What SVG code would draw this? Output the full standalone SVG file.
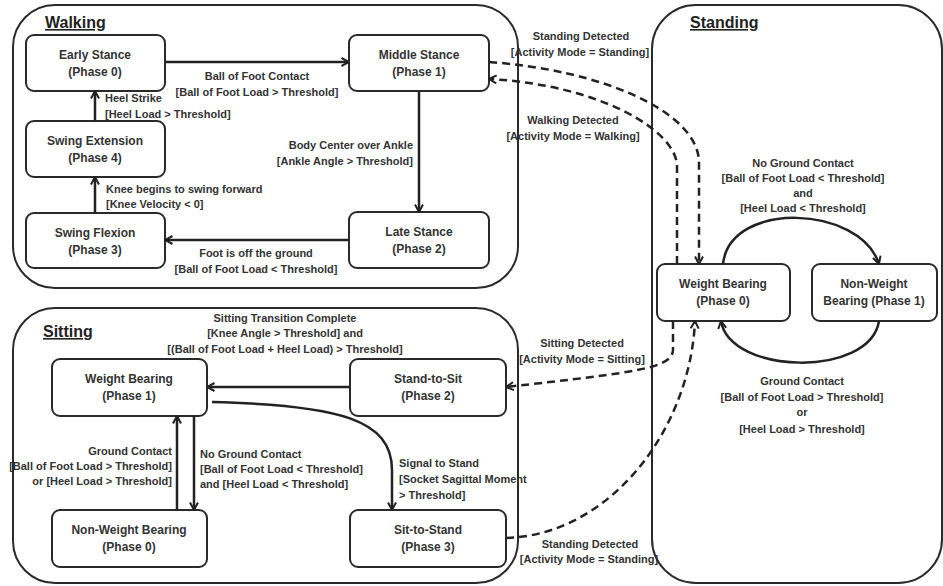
<svg xmlns="http://www.w3.org/2000/svg" width="943" height="586" viewBox="0 0 943 586">
  <style>
    .region { fill: none; stroke: #2a2a2a; stroke-width: 2; }
    .state rect { fill: #fff; stroke: #2a2a2a; stroke-width: 2; }
    .state text { font-family: "Liberation Sans", Arial, sans-serif; font-weight: bold; font-size: 12px; fill: #333; text-anchor: middle; }
    .title { font-family: "Liberation Sans", Arial, sans-serif; font-weight: bold; font-size: 16px; fill: #222; text-decoration: underline; }
    .lbl { font-family: "Liberation Sans", Arial, sans-serif; font-weight: bold; font-size: 11px; fill: #333; }
    .c { text-anchor: middle; }
    .r { text-anchor: end; }
    .edge { fill: none; stroke: #222; stroke-width: 2.5; marker-end: url(#arrow); }
    .dash { stroke-dasharray: 8 5; }
  </style>
  <defs>
    <marker id="arrow" viewBox="0 0 10 10" refX="9" refY="5" markerWidth="10" markerHeight="10" markerUnits="userSpaceOnUse" orient="auto">
      <path d="M1.5,1 L9,5 L1.5,9" fill="none" stroke="#222" stroke-width="2"/>
    </marker>
  </defs>

  <!-- activity mode regions -->
  <g id="walking-mode">
    <rect class="region" x="13" y="5" width="505" height="283" rx="42"/>
    <text class="title" x="45" y="28">Walking</text>
  </g>
  <g id="sitting-mode">
    <rect class="region" x="13" y="308" width="505" height="275" rx="42"/>
    <text class="title" x="43" y="337">Sitting</text>
  </g>
  <g id="standing-mode">
    <rect class="region" x="652" y="5" width="290" height="578" rx="44"/>
    <text class="title" x="690" y="28">Standing</text>
  </g>

  <!-- walking states -->
  <g id="early-stance" class="state">
    <rect x="26" y="35" width="139" height="56" rx="8"/>
    <text x="95" y="59">Early Stance</text>
    <text x="95" y="76">(Phase 0)</text>
  </g>
  <g id="middle-stance" class="state">
    <rect x="349" y="35" width="140" height="56" rx="8"/>
    <text x="419" y="59">Middle Stance</text>
    <text x="419" y="76">(Phase 1)</text>
  </g>
  <g id="swing-extension" class="state">
    <rect x="26" y="121" width="139" height="56" rx="8"/>
    <text x="95" y="145">Swing Extension</text>
    <text x="95" y="162">(Phase 4)</text>
  </g>
  <g id="swing-flexion" class="state">
    <rect x="26" y="213" width="139" height="55" rx="8"/>
    <text x="95" y="237">Swing Flexion</text>
    <text x="95" y="254">(Phase 3)</text>
  </g>
  <g id="late-stance" class="state">
    <rect x="349" y="212" width="140" height="56" rx="8"/>
    <text x="419" y="236">Late Stance</text>
    <text x="419" y="253">(Phase 2)</text>
  </g>

  <!-- standing states -->
  <g id="standing-weight-bearing" class="state">
    <rect x="657" y="264" width="133" height="57" rx="8"/>
    <text x="723" y="288">Weight Bearing</text>
    <text x="723" y="305">(Phase 0)</text>
  </g>
  <g id="standing-non-weight-bearing" class="state">
    <rect x="812" y="264" width="125" height="57" rx="8"/>
    <text x="874" y="288">Non-Weight</text>
    <text x="874" y="305">Bearing (Phase 1)</text>
  </g>

  <!-- sitting states -->
  <g id="sitting-weight-bearing" class="state">
    <rect x="52" y="359" width="155" height="57" rx="8"/>
    <text x="129" y="383">Weight Bearing</text>
    <text x="129" y="400">(Phase 1)</text>
  </g>
  <g id="stand-to-sit" class="state">
    <rect x="350" y="359" width="156" height="57" rx="8"/>
    <text x="428" y="383">Stand-to-Sit</text>
    <text x="428" y="400">(Phase 2)</text>
  </g>
  <g id="sitting-non-weight-bearing" class="state">
    <rect x="52" y="510" width="155" height="57" rx="8"/>
    <text x="129" y="534">Non-Weight Bearing</text>
    <text x="129" y="551">(Phase 0)</text>
  </g>
  <g id="sit-to-stand" class="state">
    <rect x="350" y="510" width="156" height="57" rx="8"/>
    <text x="428" y="534">Sit-to-Stand</text>
    <text x="428" y="551">(Phase 3)</text>
  </g>

  <!-- transitions -->
  <g id="transitions">
    <path class="edge" d="M165,62 H349"/>
    <path class="edge" d="M95,121 V91"/>
    <path class="edge" d="M95,213 V177"/>
    <path class="edge" d="M419,91 V212"/>
    <path class="edge" d="M349,240 H165"/>

    <path class="edge" d="M723,264 C730,200 860,205 879,264"/>
    <path class="edge" d="M879,321 C870,378 730,375 721,321"/>

    <path class="edge dash" d="M489,62 C600,70 695,110 699,160 L699,264"/>
    <path class="edge dash" d="M677,264 V165 C675,130 600,85 489,79"/>
    <path class="edge dash" d="M673,321 L673,350 C672,368 640,372 506,387"/>
    <path class="edge dash" d="M506,538 C610,535 690,430 695,321"/>

    <path class="edge" d="M350,387 H207"/>
    <path class="edge" d="M177,510 V416"/>
    <path class="edge" d="M194,416 V510"/>
    <path class="edge" d="M212,402 C340,405 392,420 392,470 L392,510"/>
  </g>

  <!-- transition labels -->
  <g id="labels">
    <text class="lbl c" x="257" y="80">Ball of Foot Contact</text>
    <text class="lbl c" x="257" y="96">[Ball of Foot Load &gt; Threshold]</text>
    <text class="lbl" x="105" y="102">Heel Strike</text>
    <text class="lbl" x="105" y="118">[Heel Load &gt; Threshold]</text>
    <text class="lbl" x="106" y="193">Knee begins to swing forward</text>
    <text class="lbl" x="106" y="208">[Knee Velocity &lt; 0]</text>
    <text class="lbl r" x="413" y="149">Body Center over Ankle</text>
    <text class="lbl r" x="413" y="165">[Ankle Angle &gt; Threshold]</text>
    <text class="lbl c" x="256" y="257">Foot is off the ground</text>
    <text class="lbl c" x="256" y="273">[Ball of Foot Load &lt; Threshold]</text>

    <text class="lbl c" x="581" y="40">Standing Detected</text>
    <text class="lbl c" x="580" y="56">[Activity Mode = Standing]</text>
    <text class="lbl c" x="573" y="124">Walking Detected</text>
    <text class="lbl c" x="573" y="140">[Activity Mode = Walking]</text>

    <text class="lbl c" x="803" y="167">No Ground Contact</text>
    <text class="lbl c" x="803" y="182">[Ball of Foot Load &lt; Threshold]</text>
    <text class="lbl c" x="803" y="197">and</text>
    <text class="lbl c" x="803" y="212">[Heel Load &lt; Threshold]</text>
    <text class="lbl c" x="802" y="385">Ground Contact</text>
    <text class="lbl c" x="802" y="401">[Ball of Foot Load &gt; Threshold]</text>
    <text class="lbl c" x="802" y="416">or</text>
    <text class="lbl c" x="802" y="433">[Heel Load &gt; Threshold]</text>

    <text class="lbl c" x="285" y="322">Sitting Transition Complete</text>
    <text class="lbl c" x="285" y="337">[Knee Angle &gt; Threshold] and</text>
    <text class="lbl c" x="285" y="353">[(Ball of Foot Load + Heel Load) &gt; Threshold]</text>

    <text class="lbl c" x="582" y="347">Sitting Detected</text>
    <text class="lbl c" x="582" y="363">[Activity Mode = Sitting]</text>

    <text class="lbl r" x="172" y="455">Ground Contact</text>
    <text class="lbl r" x="172" y="470">[Ball of Foot Load &gt; Threshold]</text>
    <text class="lbl r" x="172" y="485">or [Heel Load &gt; Threshold]</text>
    <text class="lbl" x="200" y="458">No Ground Contact</text>
    <text class="lbl" x="200" y="473">[Ball of Foot Load &lt; Threshold]</text>
    <text class="lbl" x="200" y="488">and [Heel Load &lt; Threshold]</text>
    <text class="lbl" x="399" y="467">Signal to Stand</text>
    <text class="lbl" x="399" y="483">[Socket Sagittal Moment</text>
    <text class="lbl" x="399" y="499">&gt; Threshold]</text>

    <text class="lbl c" x="590" y="548">Standing Detected</text>
    <text class="lbl c" x="589" y="563">[Activity Mode = Standing]</text>
  </g>
</svg>
